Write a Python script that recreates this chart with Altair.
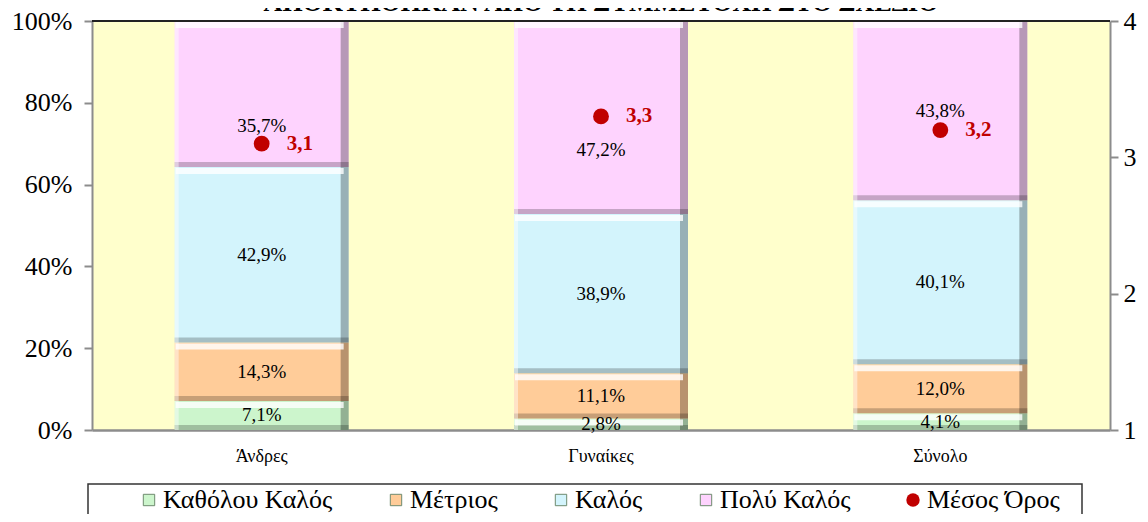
import altair as alt
import pandas as pd

# ---------------- data ----------------
categories = ["Άνδρες", "Γυναίκες", "Σύνολο"]
series = ["Καθόλου Καλός", "Μέτριος", "Καλός", "Πολύ Καλός"]
katholou_kalos = [7.1, 2.8, 4.1]
metrios = [14.3, 11.1, 12.0]
kalos = [42.9, 38.9, 40.1]
poly_kalos = [35.7, 47.2, 43.8]
mesos_oros = [3.1, 3.3, 3.2]
mean_name = "Μέσος Όρος"
title_text = "ΑΠΟΚΤΗΘΗΚΑΝ ΑΠΟ ΤΗ ΣΥΜΜΕΤΟΧΗ ΣΤΟ ΣΧΕΔΙΟ"
pct_ticks = [0, 0.2, 0.4, 0.6, 0.8, 1.0]
mean_ticks = [1, 2, 3, 4]

# ---------------- styles ----------------
FONT = "Liberation Serif"
series_colors = ["#CCF5CC", "#FFCC99", "#D3F4FC", "#FED3FE"]
mean_color = "#C00000"
BAR_W = 174

rows = []
for i, cat in enumerate(categories):
    vals = [katholou_kalos[i], metrios[i], kalos[i], poly_kalos[i]]
    start = 0.0
    for j, (s, v) in enumerate(zip(series, vals)):
        rows.append(dict(cat=cat, series=s, order=j,
                         start=start / 100, end=(start + v) / 100,
                         mid=(start + v / 2) / 100,
                         label=f"{v:.1f}%".replace(".", ",")))
        start += v
bars_df = pd.DataFrame(rows)

mean_df = pd.DataFrame(dict(cat=categories, series=[mean_name] * 3, mean=mesos_oros,
                            label=[f"{m:.1f}".replace(".", ",") for m in mesos_oros]))
one_df = pd.DataFrame({"k": [0]})

x_scale = alt.Scale(domain=categories, paddingInner=0, paddingOuter=0)
x_axis = alt.Axis(title=None, labelFont=FONT, labelFontSize=18, labelColor="black",
                  labelAngle=0, ticks=False, tickSize=0, labelPadding=17,
                  domainColor="#8C8C8C", domainWidth=2.5)
y_scale = alt.Scale(domain=[0, 1], nice=False)
y_axis = alt.Axis(title=None, values=pct_ticks, format=".0%", labelFont=FONT,
                  labelFontSize=26, labelColor="black", tickColor="#8C8C8C",
                  tickSize=8, tickWidth=2, domainColor="#8C8C8C", domainWidth=2,
                  labelPadding=12, grid=False, labelFlush=False)
m_scale = alt.Scale(domain=[1, 4], nice=False)
m_axis = alt.Axis(title=None, orient="right", values=mean_ticks, format="d",
                  labelFont=FONT, labelFontSize=26, labelColor="black",
                  tickColor="#8C8C8C", tickSize=8, tickWidth=2,
                  domainColor="#8C8C8C", domainWidth=2, labelPadding=5,
                  grid=False, labelFlush=False)


def X():
    return alt.X("cat:N", sort=categories, scale=x_scale, axis=x_axis)


def Y(field):
    return alt.Y(field, scale=y_scale, axis=y_axis)


base = alt.Chart(bars_df)

bar_main = base.mark_bar(size=BAR_W).encode(
    x=X(), y=Y("end:Q"), y2="start:Q",
    color=alt.Color("series:N", sort=series,
                    scale=alt.Scale(domain=series, range=series_colors),
                    legend=alt.Legend(title=None, orient="none", legendX=44, legendY=466,
                                      direction="horizontal", columns=4,
                                      symbolType="square", symbolSize=130,
                                      symbolStrokeColor="#6E8A6E", symbolStrokeWidth=1,
                                      labelFont=FONT, labelFontSize=26, labelColor="black",
                                      labelOffset=1, columnPadding=50, padding=0,
                                      labelLimit=400)),
)

right_edge = base.mark_bar(size=8, xOffset=BAR_W / 2 - 4, color="black", opacity=0.28).encode(
    x=X(), y=Y("end:Q"), y2="start:Q")
bottom_edge = base.mark_bar(size=BAR_W, yOffset=-5, y2Offset=0, color="black", opacity=0.22).encode(
    x=X(), y=Y("start:Q"), y2="start:Q")
top_hl = base.mark_bar(size=BAR_W - 6, xOffset=-2, yOffset=1, y2Offset=7, color="white", opacity=0.8).encode(
    x=X(), y=Y("end:Q"), y2="end:Q")
left_hl = base.mark_bar(size=4, xOffset=-BAR_W / 2 + 2, color="white", opacity=0.45).encode(
    x=X(), y=Y("end:Q"), y2="start:Q")

shift_cond = "datum.series == 'Πολύ Καλός' && datum.cat != 'Σύνολο'"
labels_main = base.transform_filter("!(" + shift_cond + ")").mark_text(
    font=FONT, fontSize=19, color="black", baseline="middle").encode(
    x=X(), y=Y("mid:Q"), text="label:N")
labels_shift = base.transform_filter(shift_cond).mark_text(
    font=FONT, fontSize=19, color="black", baseline="middle", dy=32).encode(
    x=X(), y=Y("mid:Q"), text="label:N")

top_rule = alt.Chart(one_df).mark_rule(color="#222222", strokeWidth=2).encode(
    y=alt.YDatum(1.0, type="quantitative", scale=y_scale, axis=y_axis))

legend_frame = alt.Chart(one_df).mark_rect(fill="white", fillOpacity=0, stroke="#333333",
                                           strokeWidth=1.5).encode(
    x=alt.value(-4), x2=alt.value(990), y=alt.value(463), y2=alt.value(520))

bars_layer = alt.layer(bar_main, right_edge, bottom_edge, top_hl, left_hl,
                       labels_main, labels_shift, top_rule, legend_frame)

m_base = alt.Chart(mean_df)
points = m_base.mark_point(filled=True, size=250, color=mean_color, opacity=1).encode(
    x=X(),
    y=alt.Y("mean:Q", scale=m_scale, axis=m_axis),
    shape=alt.Shape("series:N", scale=alt.Scale(domain=[mean_name], range=["circle"]),
                    legend=alt.Legend(title=None, orient="none", legendX=808, legendY=466,
                                      symbolSize=180, symbolFillColor=mean_color,
                                      symbolStrokeWidth=0, labelFont=FONT,
                                      labelFontSize=26, labelColor="black",
                                      labelOffset=1, padding=0, labelLimit=400)),
)
mean_text = m_base.mark_text(font=FONT, fontSize=21, fontWeight="bold", color=mean_color,
                             align="left", baseline="middle", dx=25).encode(
    x=X(), y=alt.Y("mean:Q", scale=m_scale, axis=m_axis), text="label:N")

mean_layer = alt.layer(points, mean_text)

chart = alt.layer(bars_layer, mean_layer).resolve_scale(y="independent").properties(
    width=1018, height=409,
    autosize=alt.AutoSizeParams(type="none"),
    padding={"left": 84, "top": 13, "right": 30, "bottom": 84},
    title=alt.TitleParams(text=title_text, font=FONT, fontSize=26, fontWeight="bold",
                          color="black", anchor="middle", offset=-8),
).configure(font=FONT).configure_view(fill="#FFFFCC", strokeWidth=0)

chart.save("out.html", embed_options={"renderer": "svg", "actions": False})
